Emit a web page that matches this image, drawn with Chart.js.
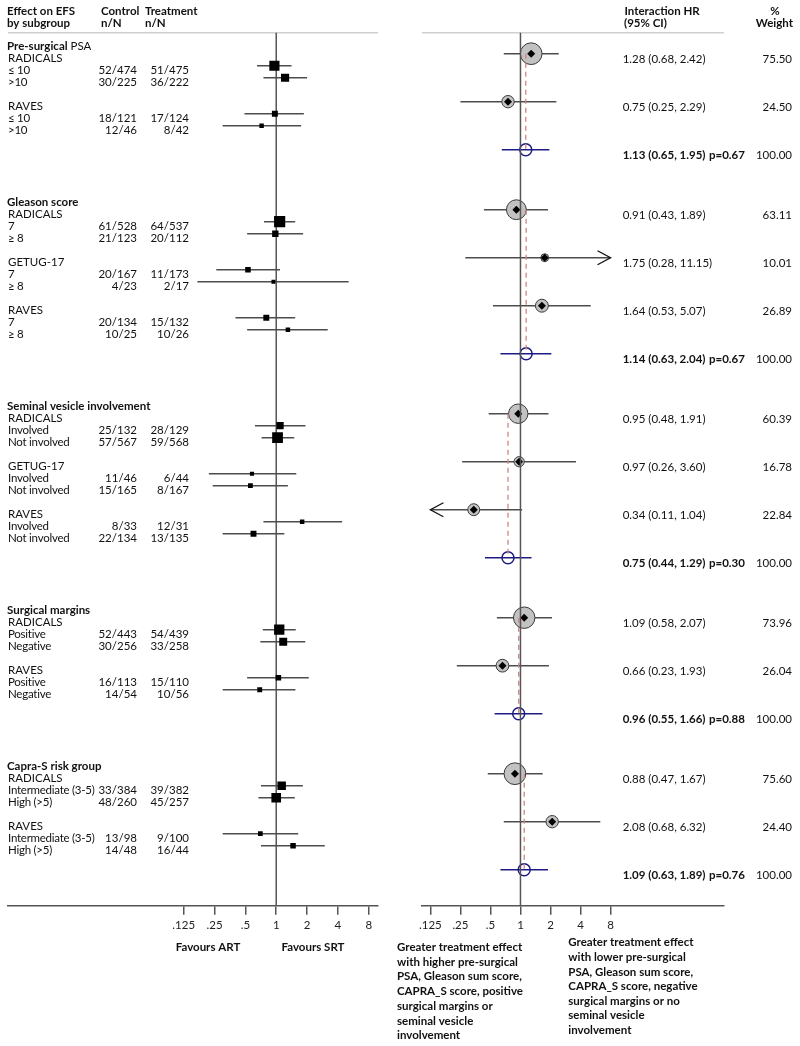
<!DOCTYPE html>
<html>
<head>
<meta charset="utf-8">
<script src="https://cdn.jsdelivr.net/npm/chart.js@4.4.1/dist/chart.umd.min.js"></script>
<style>
  body { margin: 0; background: #fff; }
  #wrap { position: relative; width: 800px; height: 1046px; }
  canvas { position: absolute; top: 0; }
</style>
</head>
<body>
<div id="wrap">
  <canvas id="left" width="390" height="1046" style="left:0"></canvas>
  <canvas id="right" width="410" height="1046" style="left:390px"></canvas>
</div>
<script>
const FONT = 'Lato, "Open Sans", sans-serif';
const SIZE = 11.5;

// subgroup titles: [bold part, regular part]
const sections = [
  ['Pre-surgical', ' PSA'],
  ['Gleason score', ''],
  ['Seminal vesicle involvement', ''],
  ['Surgical margins', ''],
  ['Capra-S risk group', ''],
];
const trials = [
  ['RADICALS', 'RAVES'],
  ['RADICALS', 'GETUG-17', 'RAVES'],
  ['RADICALS', 'GETUG-17', 'RAVES'],
  ['RADICALS', 'RAVES'],
  ['RADICALS', 'RAVES'],
];
const subgroupLabels = [
  ['≤ 10', '>10'],
  ['7', '≥ 8'],
  ['Involved', 'Not involved'],
  ['Positive', 'Negative'],
  ['Intermediate (3-5)', 'High (>5)'],
];

// one entry per subgroup row (left panel)
const controlN = ['52/474', '30/225', '18/121', '12/46',
  '61/528', '21/123', '20/167', '4/23', '20/134', '10/25',
  '25/132', '57/567', '11/46', '15/165', '8/33', '22/134',
  '52/443', '30/256', '16/113', '14/54',
  '33/384', '48/260', '13/98', '14/48'];
const treatN = ['51/475', '36/222', '17/124', '8/42',
  '64/537', '20/112', '11/173', '2/17', '15/132', '10/26',
  '28/129', '59/568', '6/44', '8/167', '12/31', '13/135',
  '54/439', '33/258', '15/110', '10/56',
  '39/382', '45/257', '9/100', '16/44'];
const subHR = [0.96, 1.22, 0.97, 0.72,
  1.08, 0.98, 0.53, 0.94, 0.80, 1.30,
  1.09, 1.03, 0.58, 0.56, 1.79, 0.60,
  1.07, 1.17, 1.05, 0.69,
  1.13, 1.00, 0.70, 1.46];
const subLo = [0.65, 0.75, 0.49, 0.30,
  0.76, 0.52, 0.26, 0.17, 0.40, 0.52,
  0.62, 0.72, 0.22, 0.24, 0.75, 0.30,
  0.74, 0.70, 0.52, 0.30,
  0.71, 0.67, 0.30, 0.71];
const subHi = [1.41, 2.00, 1.86, 1.75,
  1.53, 1.83, 1.09, 5.09, 1.53, 3.18,
  1.93, 1.50, 1.57, 1.30, 4.40, 1.20,
  1.55, 1.92, 2.08, 1.54,
  1.82, 1.52, 1.64, 2.98];

// one entry per trial (right panel)
const intHR = [1.28, 0.75, 0.91, 1.75, 1.64, 0.95, 0.97, 0.34, 1.09, 0.66, 0.88, 2.08];
const intLo = [0.68, 0.25, 0.43, 0.28, 0.53, 0.48, 0.26, 0.11, 0.58, 0.23, 0.47, 0.68];
const intHi = [2.42, 2.29, 1.89, 11.15, 5.07, 1.91, 3.60, 1.04, 2.07, 1.93, 1.67, 6.32];
const weights = [75.50, 24.50, 63.11, 10.01, 26.89, 60.39, 16.78, 22.84, 73.96, 26.04, 75.60, 24.40];

// one entry per subgroup title (pooled interaction)
const pooledHR = [1.13, 1.14, 0.75, 0.96, 1.09];
const pooledLo = [0.65, 0.63, 0.44, 0.55, 0.63];
const pooledHi = [1.95, 2.04, 1.29, 1.66, 1.89];
const pValues = ['0.67', '0.67', '0.30', '0.88', '0.76'];

const tickValues = [0.125, 0.25, 0.5, 1, 2, 4, 8];
const tickLabels = ['.125', '.25', '.5', '1', '2', '4', '8'];

const noteLeft = ['Greater treatment effect', 'with higher pre-surgical', 'PSA, Gleason sum score,',
  'CAPRA_S score, positive', 'surgical margins or', 'seminal vesicle', 'involvement'];
const noteRight = ['Greater treatment effect', 'with lower pre-surgical', 'PSA, Gleason sum score,',
  'CAPRA_S score, negative', 'surgical margins or no', 'seminal vesicle', 'involvement'];

// row layout: title, then 4 rows per trial, pooled row, 3 blank rows
const headerRows = [], trialRows = [], subRows = [], pooledRows = [], firstTrialRows = [];
const trialNames = [], subNames = [], trialSection = [];
let row = 0;
sections.forEach((sec, s) => {
  headerRows.push(row);
  firstTrialRows.push(row + 1);
  trials[s].forEach((name, j) => {
    const tr = row + 1 + 4 * j;
    trialRows.push(tr);
    trialNames.push(name);
    trialSection.push(s);
    subRows.push(tr + 1, tr + 2);
    subNames.push(subgroupLabels[s][0], subgroupLabels[s][1]);
  });
  pooledRows.push(row + 1 + 4 * trials[s].length);
  row += 5 + 4 * trials[s].length;
});

const events = (s) => parseInt(s.split('/')[0], 10);
const squareSide = controlN.map((c, i) => Math.max(4, Math.sqrt(events(c) + events(treatN[i]))));
const tickMin = tickValues[0];
const tickMax = tickValues[tickValues.length - 1];

function put(ctx, str, x, y, align, bold, spacing) {
  ctx.font = (bold ? 'bold ' : '') + SIZE + 'px ' + FONT;
  ctx.letterSpacing = spacing || '0px';
  ctx.textAlign = align || 'left';
  ctx.textBaseline = 'middle';
  ctx.fillStyle = '#111';
  ctx.fillText(str, x, y);
  ctx.letterSpacing = '0px';
}

function makeOptions(xMin, xMax, padLeft, padRight) {
  return {
    responsive: false,
    animation: false,
    events: [],
    layout: { padding: { left: padLeft, right: padRight, top: 32.7, bottom: 100.3 } },
    plugins: { legend: { display: false }, tooltip: { enabled: false } },
    scales: {
      x: {
        type: 'logarithmic',
        min: xMin,
        max: xMax,
        afterBuildTicks: (axis) => { axis.ticks = tickValues.map((v) => ({ value: v })); },
        afterFit: (axis) => { axis.height = 40; },
        ticks: {
          callback: (v, i) => tickLabels[i],
          autoSkip: false,
          maxRotation: 0,
          padding: 4,
          color: '#222',
          font: { family: FONT, size: SIZE },
        },
        grid: { drawOnChartArea: false, drawTicks: true, tickLength: 9, color: '#555', lineWidth: 1.5 },
        border: { display: true, color: '#555', width: 1.5 },
      },
      y: { type: 'linear', min: -0.75, max: 72, reverse: true, display: false },
    },
  };
}

function frame(chart) {
  const { ctx, chartArea: a, scales: { x } } = chart;
  const px = x.getPixelForValue(1);
  ctx.save();
  ctx.strokeStyle = '#d0d0d0';
  ctx.lineWidth = 1.5;
  ctx.beginPath(); ctx.moveTo(a.left, a.top); ctx.lineTo(a.right, a.top); ctx.stroke();
  ctx.strokeStyle = '#555';
  ctx.beginPath(); ctx.moveTo(px, a.top); ctx.lineTo(px, a.bottom); ctx.stroke();
  ctx.restore();
}

const leftText = {
  id: 'leftText',
  beforeDatasetsDraw(chart) { frame(chart); },
  afterDraw(chart) {
    const ctx = chart.ctx;
    const at = (r) => chart.scales.y.getPixelForValue(r) + 5;
    ctx.save();
    put(ctx, 'Effect on EFS', 7, 11, 'left', true);
    put(ctx, 'by subgroup', 7, 23, 'left', true);
    put(ctx, 'Control', 101, 11, 'left', true);
    put(ctx, 'n/N', 101, 23, 'left', true);
    put(ctx, 'Treatment', 145, 11, 'left', true);
    put(ctx, 'n/N', 145, 23, 'left', true);
    sections.forEach((sec, s) => {
      const yy = at(headerRows[s]);
      put(ctx, sec[0], 7, yy, 'left', true);
      if (sec[1]) {
        ctx.font = 'bold ' + SIZE + 'px ' + FONT;
        const w = ctx.measureText(sec[0]).width;
        put(ctx, sec[1], 7 + w, yy, 'left', false);
      }
    });
    trialRows.forEach((r, i) => put(ctx, trialNames[i], 8, at(r)));
    subRows.forEach((r, i) => {
      put(ctx, subNames[i], 8, at(r), 'left', false, '-0.25px');
      put(ctx, controlN[i], 137, at(r), 'right');
      put(ctx, treatN[i], 189, at(r), 'right');
    });
    put(ctx, 'Favours ART', 208, 947, 'center', true);
    put(ctx, 'Favours SRT', 313, 947, 'center', true);
    ctx.restore();
  },
};

const rightText = {
  id: 'rightText',
  afterDatasetsDraw(chart) {
    frame(chart);
    const { ctx, scales: { x, y } } = chart;
    ctx.save();
    ctx.strokeStyle = '#111';
    ctx.lineWidth = 1.3;
    const chevron = (tip, yy, dir) => {
      ctx.beginPath();
      ctx.moveTo(tip + dir * 13, yy - 7);
      ctx.lineTo(tip, yy);
      ctx.lineTo(tip + dir * 13, yy + 7);
      ctx.stroke();
    };
    trialRows.forEach((r, i) => {
      const yy = y.getPixelForValue(r);
      if (intHi[i] > tickMax) chevron(x.getPixelForValue(tickMax), yy, -1);
      if (intLo[i] < tickMin) chevron(x.getPixelForValue(tickMin), yy, 1);
    });
    ctx.restore();
  },
  afterDraw(chart) {
    const ctx = chart.ctx;
    const at = (r) => chart.scales.y.getPixelForValue(r) + 5.5;
    const ci = (h, l, u) => h.toFixed(2) + ' (' + l.toFixed(2) + ', ' + u.toFixed(2) + ')';
    ctx.save();
    put(ctx, 'Interaction HR', 234.5, 11, 'left', true);
    put(ctx, '(95% CI)', 234, 23, 'left', true);
    put(ctx, '%', 385, 11, 'center', true);
    put(ctx, 'Weight', 403, 23, 'right', true);
    trialRows.forEach((r, i) => {
      put(ctx, ci(intHR[i], intLo[i], intHi[i]), 232.7, at(r));
      put(ctx, weights[i].toFixed(2), 402, at(r), 'right');
    });
    pooledRows.forEach((r, s) => {
      // section weights add up to 100 % (rounded in the table)
      const total = Math.round(weights.filter((w, i) => trialSection[i] === s).reduce((a, b) => a + b, 0));
      put(ctx, ci(pooledHR[s], pooledLo[s], pooledHi[s]), 232.7, at(r), 'left', true);
      put(ctx, 'p=' + pValues[s], 319, at(r), 'left', true);
      put(ctx, total.toFixed(2), 402, at(r), 'right');
    });
    noteLeft.forEach((t, i) => put(ctx, t, 7, 947.3 + 14.7 * i, 'left', true));
    noteRight.forEach((t, i) => put(ctx, t, 178.3, 942.7 + 14.6 * i, 'left', true));
    ctx.restore();
  },
};

// left panel: subgroup HRs
const leftDatasets = subHR.map((v, i) => ({
  data: [{ x: subLo[i], y: subRows[i] }, { x: subHi[i], y: subRows[i] }],
  showLine: true,
  borderColor: '#4d4d4d',
  borderWidth: 1.5,
  pointRadius: 0,
  order: 2,
}));
leftDatasets.push({
  data: subHR.map((v, i) => ({ x: v, y: subRows[i] })),
  pointStyle: 'rect',
  pointRadius: squareSide.map((s) => s / Math.SQRT2),
  pointBackgroundColor: '#000',
  pointBorderWidth: 0,
  order: 1,
});

new Chart(document.getElementById('left'), {
  type: 'scatter',
  data: { datasets: leftDatasets },
  options: makeOptions(2 ** -8.7, 2 ** 3.3, 7, 12),
  plugins: [leftText],
});

// right panel: interaction HRs
const rightDatasets = intHR.map((v, i) => ({
  data: [{ x: Math.max(intLo[i], tickMin), y: trialRows[i] }, { x: Math.min(intHi[i], tickMax), y: trialRows[i] }],
  showLine: true,
  borderColor: '#4d4d4d',
  borderWidth: 1.5,
  pointRadius: 0,
  order: 6,
}));
rightDatasets.push({
  data: intHR.map((v, i) => ({ x: v, y: trialRows[i] })),
  pointStyle: 'circle',
  pointRadius: weights.map((w) => 1.25 * Math.sqrt(w)),
  pointBackgroundColor: '#c2c2c2',
  pointBorderColor: '#3a3a3a',
  pointBorderWidth: 1,
  order: 5,
});
rightDatasets.push({
  data: intHR.map((v, i) => ({ x: v, y: trialRows[i] })),
  pointStyle: 'rectRot',
  pointRadius: 4,
  pointBackgroundColor: '#000',
  pointBorderWidth: 0,
  order: 4,
});
pooledHR.forEach((v, s) => {
  rightDatasets.push({
    data: [{ x: pooledLo[s], y: pooledRows[s] }, { x: pooledHi[s], y: pooledRows[s] }],
    showLine: true,
    borderColor: '#1c1c84',
    borderWidth: 1.5,
    pointRadius: 0,
    order: 3,
  });
  rightDatasets.push({
    data: [{ x: v, y: firstTrialRows[s] }, { x: v, y: pooledRows[s] }],
    showLine: true,
    borderColor: '#d08484',
    borderWidth: 1.3,
    borderDash: [5, 4],
    pointRadius: 0,
    order: 0,
  });
});
rightDatasets.push({
  data: pooledHR.map((v, s) => ({ x: v, y: pooledRows[s] })),
  pointStyle: 'circle',
  pointRadius: 6,
  pointBackgroundColor: 'rgba(0,0,0,0)',
  pointBorderColor: '#1c1c84',
  pointBorderWidth: 1.5,
  order: 1,
});

new Chart(document.getElementById('right'), {
  type: 'scatter',
  data: { datasets: rightDatasets },
  options: makeOptions(2 ** -3.28, 2 ** 6.78, 32, 76),
  plugins: [rightText],
});
</script>
</body>
</html>
